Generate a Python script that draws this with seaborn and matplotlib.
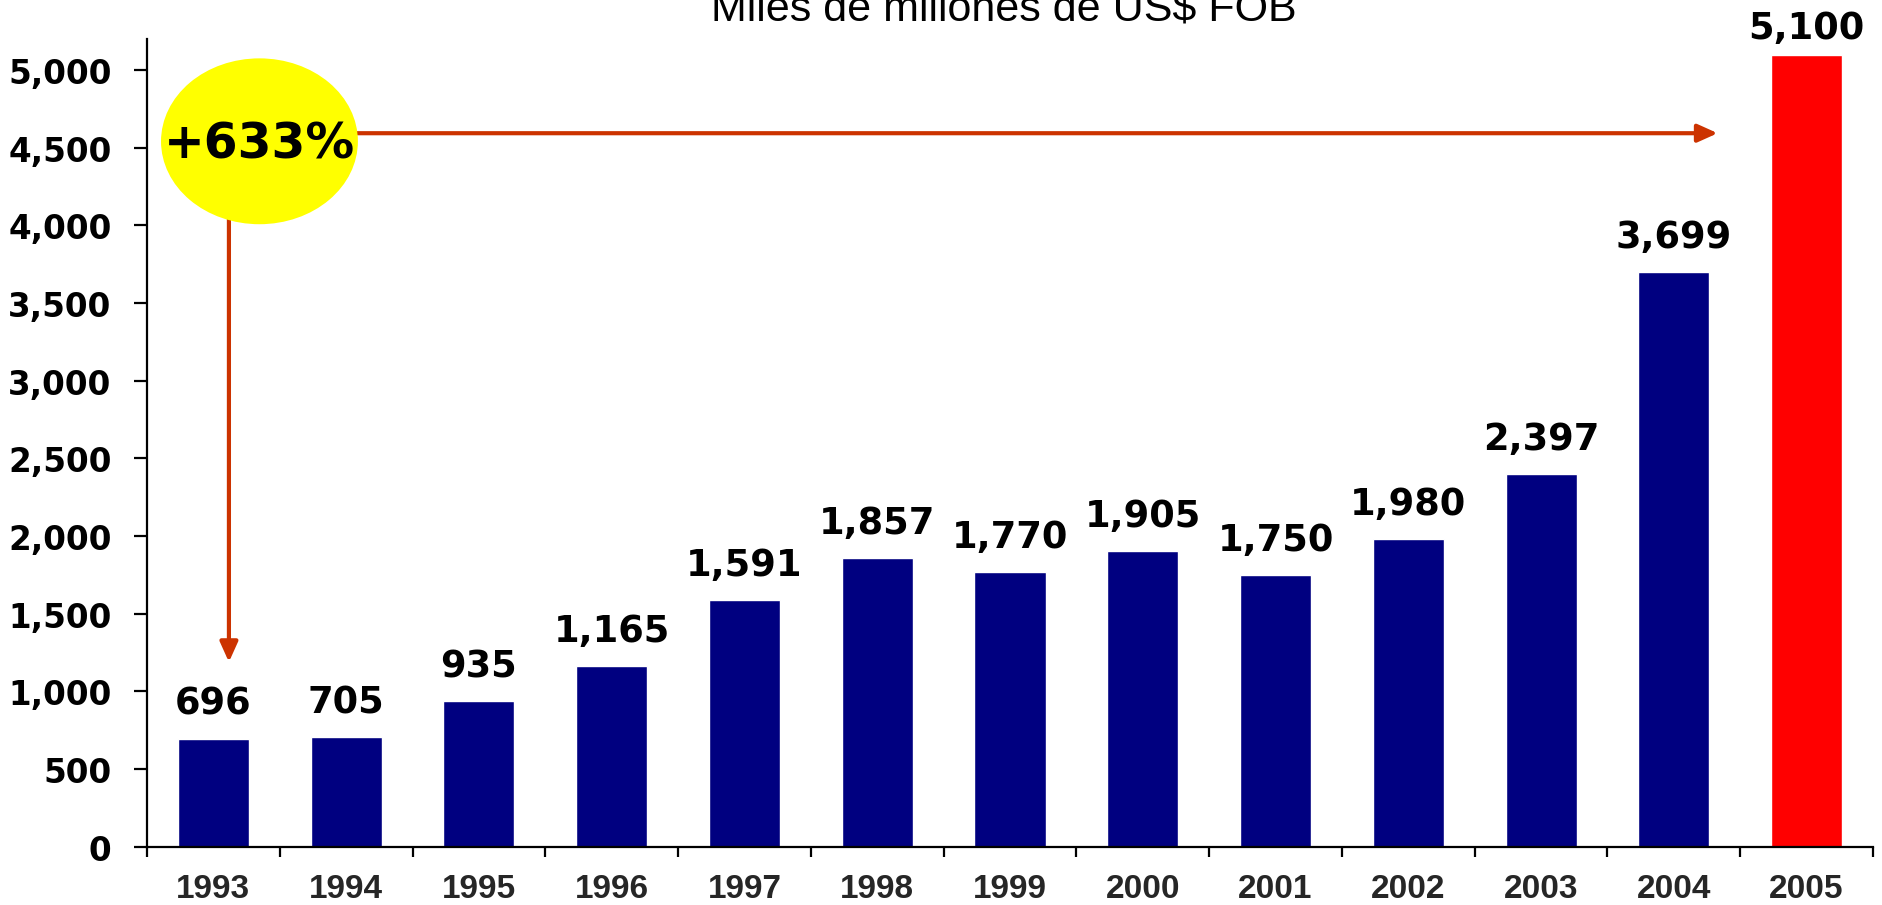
import matplotlib
matplotlib.use("Agg")
import matplotlib.pyplot as plt
from matplotlib.patches import Ellipse
from matplotlib.ticker import FuncFormatter, FixedLocator
import seaborn as sns
import pandas as pd

# data
years = ["1993", "1994", "1995", "1996", "1997", "1998", "1999",
         "2000", "2001", "2002", "2003", "2004", "2005"]
values = [696, 705, 935, 1165, 1591, 1857, 1770, 1905, 1750, 1980, 2397, 3699, 5100]
bar_colors = ["#000080"] * 12 + ["#FF0000"]
y_ticks = [0, 500, 1000, 1500, 2000, 2500, 3000, 3500, 4000, 4500, 5000]

df = pd.DataFrame({"year": years, "value": values})

sns.set_style("ticks")
plt.rcParams["font.family"] = ["DejaVu Sans"]

fig = plt.figure(figsize=(18.83, 9.059), dpi=100)
ax = fig.add_axes([0.07807, 0.06435, 0.91662, 0.89150])

sns.barplot(data=df, x="year", y="value", hue="year", palette=bar_colors,
            legend=False, width=0.535, saturation=1, ax=ax, zorder=2)

ax.set_xlim(-0.5, len(years) - 0.5)
ax.set_ylim(0, 5200)
ax.set_xlabel("")
ax.set_ylabel("")

# spines
sns.despine(ax=ax)
for s in ["left", "bottom"]:
    ax.spines[s].set_linewidth(1.6)
    ax.spines[s].set_color("black")

# y axis
ax.yaxis.set_major_locator(FixedLocator(y_ticks))
ax.yaxis.set_major_formatter(FuncFormatter(lambda v, p: f"{int(v):,}"))
ax.tick_params(axis="y", length=9.5, width=1.6, pad=16, labelsize=23.5, colors="black")
for lab in ax.get_yticklabels():
    lab.set_fontweight("bold")

# x axis: labels at centers, tick marks at boundaries
ax.set_xticks(range(len(years)))
ax.set_xticklabels(years, fontfamily="Liberation Sans", fontweight="bold", fontsize=24)
ax.tick_params(axis="x", which="major", length=0, pad=19)
ax.set_xticks([i - 0.5 for i in range(len(years) + 1)], minor=True)
ax.tick_params(axis="x", which="minor", length=7, width=1.6, color="black")

# value labels
for i, v in enumerate(values):
    off = 12 if v == max(values) else 18
    ax.annotate(f"{v:,}", (i, v), xytext=(0, off), textcoords="offset points",
                ha="center", va="baseline", fontsize=26.5, fontweight="bold",
                color="black", zorder=4)

# growth arrows and bubble
arrow_color = "#CC3300"
astyle = "-|>,head_length=0.6,head_width=0.27"
ax.annotate("", xy=(11.33, 4594), xytext=(0.35, 4594),
            arrowprops=dict(arrowstyle=astyle, color=arrow_color, lw=3,
                            mutation_scale=20, shrinkA=0, shrinkB=0), zorder=3)
ax.annotate("", xy=(0.117, 1189), xytext=(0.117, 4400),
            arrowprops=dict(arrowstyle=astyle, color=arrow_color, lw=3,
                            mutation_scale=20, shrinkA=0, shrinkB=0), zorder=3)
ax.add_patch(Ellipse((0.347, 4542), 1.483, 1068, facecolor="#FFFF00",
                     edgecolor="none", zorder=5, clip_on=False))
ax.text(0.347, 4528, "+633%", ha="center", va="center", fontsize=35,
        fontweight="bold", color="black", zorder=6)

# title, cut off at the top of the image
fig.text(0.533, 1 - 21 / 906, "Miles de millones de US$ FOB", ha="center",
         va="baseline", fontfamily="Liberation Sans", fontsize=31, color="black")

fig.savefig("out.png", dpi=100)
